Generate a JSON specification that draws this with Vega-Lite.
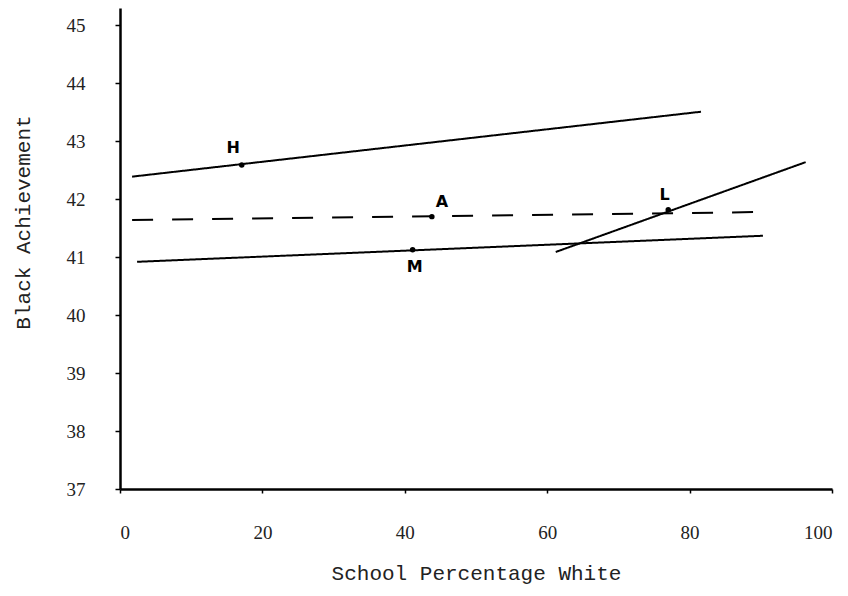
{
  "$schema": "https://vega.github.io/schema/vega-lite/v6.json",
  "width": 712,
  "height": 481,
  "autosize": "none",
  "padding": {"left": 120, "top": 8, "right": 16, "bottom": 107},
  "background": "white",
  "config": {
    "view": {"stroke": null},
    "axis": {
      "grid": false,
      "domainColor": "black",
      "domainWidth": 2.5,
      "tickColor": "black",
      "tickWidth": 1.5,
      "labelColor": "#222",
      "titleColor": "#222",
      "labelFont": "Liberation Serif",
      "titleFont": "Liberation Mono",
      "labelFontSize": 19,
      "titleFontSize": 21,
      "titleFontWeight": "normal"
    }
  },
  "datasets": {
    "lines": [
      {"series": "H", "x": 1.7, "y": 42.39},
      {"series": "H", "x": 81.6, "y": 43.51},
      {"series": "A", "x": 1.7, "y": 41.64},
      {"series": "A", "x": 90.3, "y": 41.78},
      {"series": "M", "x": 2.4, "y": 40.92},
      {"series": "M", "x": 90.3, "y": 41.37},
      {"series": "L", "x": 61.2, "y": 41.09},
      {"series": "L", "x": 96.3, "y": 42.64}
    ],
    "points": [
      {"series": "H", "x": 17.1, "y": 42.59, "lx": 15.9, "ly": 42.89},
      {"series": "A", "x": 43.8, "y": 41.70, "lx": 45.2, "ly": 41.95},
      {"series": "M", "x": 41.1, "y": 41.13, "lx": 41.4, "ly": 40.83},
      {"series": "L", "x": 77.0, "y": 41.82, "lx": 76.5, "ly": 42.08}
    ]
  },
  "layer": [
    {
      "data": {"name": "lines"},
      "mark": {"type": "line", "color": "black", "strokeWidth": 2},
      "encoding": {
        "x": {
          "field": "x", "type": "quantitative",
          "scale": {"domain": [0, 100], "nice": false, "zero": false},
          "axis": {
            "title": "School Percentage White",
            "values": [0, 20, 40, 60, 80, 100],
            "format": "d",
            "tickSize": 4,
            "labelPadding": 30,
            "titleBaseline": "middle",
            "titleY": 84
          }
        },
        "y": {
          "field": "y", "type": "quantitative",
          "scale": {"domain": [37, 45.3], "nice": false, "zero": false},
          "axis": {
            "title": "Black Achievement",
            "values": [37, 38, 39, 40, 41, 42, 43, 44, 45],
            "format": "d",
            "tickSize": 5,
            "labelPadding": 30,
            "titleAngle": -90,
            "titleBaseline": "middle",
            "titleX": -97,
            "titleY": 214
          }
        },
        "detail": {"field": "series"},
        "strokeDash": {
          "field": "series",
          "scale": {"domain": ["H", "A", "M", "L"], "range": [[1, 0], [21, 19], [1, 0], [1, 0]]},
          "legend": null
        }
      }
    },
    {
      "data": {"name": "points"},
      "mark": {"type": "point", "filled": true, "color": "black", "size": 30, "opacity": 1},
      "encoding": {
        "x": {"field": "x", "type": "quantitative"},
        "y": {"field": "y", "type": "quantitative"}
      }
    },
    {
      "data": {"name": "points"},
      "mark": {"type": "text", "font": "DejaVu Sans", "fontWeight": "bold", "fontSize": 16, "color": "black", "align": "center", "baseline": "middle"},
      "encoding": {
        "x": {"field": "lx", "type": "quantitative"},
        "y": {"field": "ly", "type": "quantitative"},
        "text": {"field": "series"}
      }
    }
  ]
}
